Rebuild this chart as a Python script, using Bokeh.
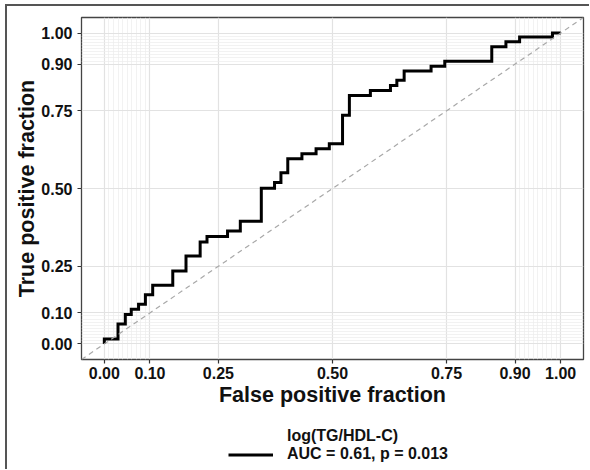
from bokeh.plotting import figure
from bokeh.layouts import column
from bokeh.models import FixedTicker, Slope, Legend, LegendItem
from bokeh.embed import file_html
from bokeh.resources import INLINE

# ROC points (false positive fraction, true positive fraction)
fpr = [0.000, 0.000, 0.030, 0.046, 0.059, 0.075, 0.090, 0.106, 0.150, 0.179,
       0.210, 0.225, 0.270, 0.298, 0.344, 0.373, 0.387, 0.402, 0.433, 0.464,
       0.493, 0.522, 0.537, 0.583, 0.627, 0.641, 0.657, 0.716, 0.746, 0.849,
       0.880, 0.910, 0.982, 1.000]
tpr = [0.000, 0.016, 0.064, 0.095, 0.112, 0.128, 0.158, 0.189, 0.235, 0.283,
       0.328, 0.346, 0.363, 0.395, 0.501, 0.519, 0.551, 0.596, 0.612, 0.628,
       0.644, 0.736, 0.799, 0.815, 0.831, 0.848, 0.878, 0.893, 0.909, 0.956,
       0.972, 0.987, 1.000, 1.000]

major_ticks = [0.0, 0.10, 0.25, 0.50, 0.75, 0.90, 1.00]
tick_labels = ["0.00", "0.10", "0.25", "0.50", "0.75", "0.90", "1.00"]
minor_ticks = [0.01, 0.02, 0.03, 0.04, 0.05, 0.06, 0.07, 0.08, 0.09,
               0.91, 0.92, 0.93, 0.94, 0.95, 0.96, 0.97, 0.98, 0.99]

x_title = "False positive fraction"
y_title = "True positive fraction"
series_name = "log(TG/HDL-C)"
auc_text = "AUC = 0.61, p = 0.013"

FONT = "Liberation Sans"

# ---- main ROC panel ----
p = figure(width=582, height=408, x_range=(-0.05, 1.05), y_range=(-0.05, 1.05),
           output_backend="svg", toolbar_location=None,
           min_border_left=74, min_border_top=11, min_border_right=6,
           min_border_bottom=55)

p.background_fill_color = "white"
p.border_fill_color = "white"
p.outline_line_color = "#444444"
p.outline_line_width = 1.3

labels = dict(zip(major_ticks, tick_labels))
for ax in (p.xaxis[0], p.yaxis[0]):
    ax.ticker = FixedTicker(ticks=major_ticks)
    ax.major_label_overrides = labels
    ax.axis_line_color = None
    ax.major_tick_line_color = "#333333"
    ax.major_tick_line_width = 1.2
    ax.major_tick_in = 0
    ax.major_tick_out = 4
    ax.minor_tick_line_color = None
    ax.major_label_text_font = FONT
    ax.major_label_text_font_style = "bold"
    ax.major_label_text_font_size = "16px"
    ax.major_label_text_color = "#111111"
    ax.axis_label_text_font = FONT
    ax.axis_label_text_font_style = "bold"
    ax.axis_label_text_font_size = "21.5px"
    ax.axis_label_text_color = "#111111"

p.xaxis.axis_label = x_title
p.yaxis.axis_label = y_title
p.xaxis.major_label_standoff = 3
p.xaxis.axis_label_standoff = 1
p.yaxis.major_label_standoff = 5
p.yaxis.axis_label_standoff = -1

for g in (p.xgrid[0], p.ygrid[0]):
    g.ticker = FixedTicker(ticks=major_ticks, minor_ticks=minor_ticks)
    g.grid_line_color = "#e2e2e2"
    g.grid_line_width = 1.2
    g.minor_grid_line_color = "#ececec"
    g.minor_grid_line_width = 0.7

p.add_layout(Slope(gradient=1, y_intercept=0, line_color="#a8a8a8",
                   line_width=1.2, line_dash="5 4"))

p.step(fpr, tpr, mode="after", line_color="black", line_width=3,
       line_join="miter")

# ---- legend strip below the panel ----
leg = figure(width=582, height=55, x_range=(-0.05, 1.05), y_range=(2.0, 3.0),
             output_backend="svg", toolbar_location=None,
             x_axis_location=None, y_axis_location=None,
             min_border_left=0, min_border_right=0, min_border_top=0,
             min_border_bottom=0)
leg.grid.visible = False
leg.outline_line_color = None
leg.background_fill_color = "white"
leg.border_fill_color = "white"

ghost = leg.line(fpr, tpr, line_alpha=0)
key = leg.line(fpr, tpr, line_color="black", line_width=3)

legend = Legend(items=[LegendItem(label=series_name, renderers=[ghost]),
                       LegendItem(label=auc_text, renderers=[key])],
                location=(147, 6), orientation="vertical",
                glyph_width=45, glyph_height=17, label_height=17,
                spacing=0, label_standoff=14, padding=0, margin=0,
                border_line_color=None, background_fill_alpha=0,
                label_text_font=FONT, label_text_font_style="bold",
                label_text_font_size="16px", label_text_color="#111111")
leg.add_layout(legend)

layout = column(p, leg, spacing=0,
                styles={"border-top": "2px solid #555555",
                        "border-left": "2px solid #555555",
                        "margin-left": "5px", "margin-top": "4px"})

open("out.html", "w").write(file_html(layout, INLINE))
